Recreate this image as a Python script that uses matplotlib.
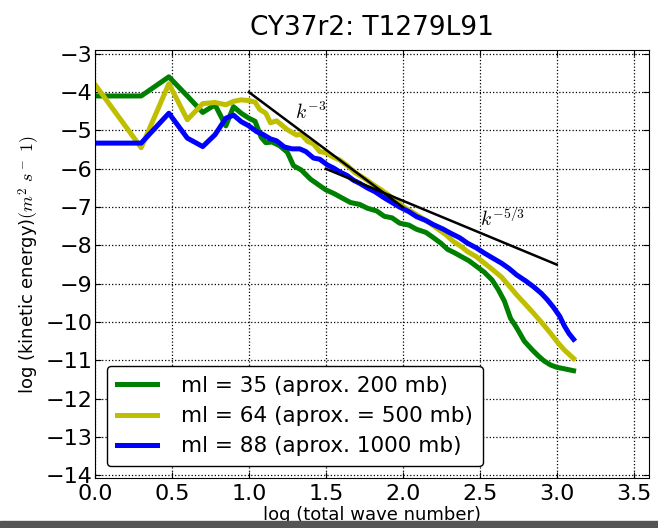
import matplotlib
matplotlib.use('Agg')
import matplotlib.pyplot as plt
from matplotlib.patches import Rectangle

## 1- data (log10 of wave number vs log10 of KE)
x_ml35 = [0.0, 0.30, 0.48, 0.60, 0.70, 0.78, 0.85, 0.90, 0.95, 1.00, 1.04, 1.08, 1.11,
          1.15, 1.20, 1.25, 1.29, 1.34, 1.40, 1.46, 1.50, 1.55, 1.60, 1.66, 1.72, 1.77,
          1.83, 1.88, 1.93, 1.98, 2.04, 2.09, 2.15, 2.20, 2.25, 2.29, 2.34, 2.38, 2.43,
          2.48, 2.53, 2.58, 2.62, 2.66, 2.70, 2.74, 2.79, 2.84, 2.88, 2.92, 2.96, 3.00,
          3.05, 3.11]
y_ml35 = [-4.10, -4.10, -3.60, -4.10, -4.53, -4.33, -4.88, -4.38, -4.55, -4.68, -4.76,
          -5.18, -5.32, -5.30, -5.40, -5.57, -5.92, -6.03, -6.27, -6.44, -6.55, -6.64,
          -6.75, -6.88, -6.93, -7.03, -7.10, -7.24, -7.28, -7.42, -7.47, -7.58, -7.66,
          -7.80, -7.95, -8.10, -8.20, -8.29, -8.40, -8.55, -8.70, -8.90, -9.15, -9.45,
          -9.90, -10.15, -10.50, -10.72, -10.88, -11.02, -11.12, -11.18, -11.22, -11.27]

x_ml64 = [0.0, 0.30, 0.48, 0.60, 0.70, 0.78, 0.85, 0.90, 0.95, 1.00, 1.04, 1.07, 1.11,
          1.14, 1.18, 1.22, 1.25, 1.31, 1.34, 1.38, 1.42, 1.46, 1.50, 1.55, 1.59, 1.64,
          1.69, 1.75, 1.81, 1.86, 1.92, 1.96, 2.00, 2.05, 2.11, 2.17, 2.22, 2.28, 2.33,
          2.38, 2.42, 2.48, 2.53, 2.58, 2.64, 2.69, 2.74, 2.80, 2.85, 2.90, 2.96, 3.00,
          3.05, 3.11]
y_ml64 = [-3.80, -5.45, -3.78, -4.72, -4.30, -4.27, -4.33, -4.24, -4.20, -4.22, -4.26,
          -4.45, -4.55, -4.80, -4.75, -4.88, -4.98, -5.12, -5.10, -5.28, -5.35, -5.55,
          -5.58, -5.70, -5.77, -5.92, -6.10, -6.25, -6.42, -6.55, -6.72, -6.85, -6.98,
          -7.10, -7.25, -7.40, -7.55, -7.72, -7.90, -8.03, -8.16, -8.30, -8.46, -8.62,
          -8.82, -9.05, -9.29, -9.55, -9.77, -10.00, -10.29, -10.50, -10.73, -10.95]

x_ml88 = [0.0, 0.30, 0.48, 0.60, 0.70, 0.78, 0.85, 0.90, 0.95, 1.00, 1.05, 1.09, 1.14,
          1.18, 1.23, 1.28, 1.33, 1.37, 1.42, 1.46, 1.51, 1.55, 1.59, 1.64, 1.68, 1.72,
          1.77, 1.82, 1.88, 1.93, 1.98, 2.04, 2.09, 2.15, 2.20, 2.26, 2.31, 2.37, 2.42,
          2.48, 2.53, 2.58, 2.64, 2.69, 2.74, 2.80, 2.85, 2.90, 2.94, 2.98, 3.02, 3.05,
          3.08, 3.11]
y_ml88 = [-5.33, -5.33, -4.55, -5.20, -5.42, -5.11, -4.68, -4.60, -4.77, -4.88, -5.03,
          -5.10, -5.22, -5.27, -5.43, -5.48, -5.48, -5.55, -5.72, -5.75, -5.90, -5.98,
          -6.08, -6.18, -6.30, -6.38, -6.50, -6.60, -6.76, -6.88, -7.00, -7.12, -7.25,
          -7.35, -7.46, -7.57, -7.68, -7.80, -7.94, -8.07, -8.20, -8.32, -8.46, -8.60,
          -8.77, -8.93, -9.08, -9.25, -9.42, -9.62, -9.85, -10.10, -10.30, -10.45]

# reference slopes
k3_x = [1.0, 2.0]
k3_y = [-4.0, -7.0]
k53_x = [1.5, 3.0]
k53_y = [-6.0, -8.5]

labels = ['ml = 35 (aprox. 200 mb)',
          'ml = 64 (aprox. = 500 mb)',
          'ml = 88 (aprox. 1000 mb)']

## 2- style (old matplotlib look)
plt.rcParams['mathtext.fontset'] = 'cm'
plt.rcParams['xtick.direction'] = 'in'
plt.rcParams['ytick.direction'] = 'in'
plt.rcParams['xtick.top'] = True
plt.rcParams['ytick.right'] = True
plt.rcParams['xtick.major.size'] = 4
plt.rcParams['ytick.major.size'] = 4

## 3- plot
fig = plt.figure(figsize=(6.58, 5.28), dpi=100)
ax = fig.add_axes([0.1444, 0.0947, 0.8419, 0.8106])

ax.plot(x_ml35, y_ml35, color='g', lw=3.6, label=labels[0])
ax.plot(x_ml64, y_ml64, color=(0.75, 0.75, 0), lw=3.6, label=labels[1])
ax.plot(x_ml88, y_ml88, color='b', lw=3.6, label=labels[2])
ax.plot(k3_x, k3_y, color='k', lw=1.8)
ax.plot(k53_x, k53_y, color='k', lw=1.8)

ax.text(1.3, -4.7, r'$k^{-3}$', fontsize=14)
ax.text(2.5, -7.5, r'$k^{-5/3}$', fontsize=14)

ax.set_xlim(0, 3.6)
ax.set_ylim(-14.07, -2.9)
ax.set_xticks([0.0, 0.5, 1.0, 1.5, 2.0, 2.5, 3.0, 3.5])
ax.set_yticks(range(-14, -2))
ax.tick_params(axis='both', labelsize=16)
ax.tick_params(axis='y', pad=2)
ax.tick_params(axis='x', pad=4)
ax.grid(True, linestyle=':', color='k', lw=0.9)

ax.set_title('CY37r2: T1279L91', fontsize=19, pad=11)
ax.set_xlabel('log (total wave number)', fontsize=13, labelpad=2)
ax.set_ylabel(r'log (kinetic energy)$(m^2\ s^-\ 1)$', fontsize=13, labelpad=2)

leg = ax.legend(loc='lower left', fontsize=15.5, handlelength=1.9, handletextpad=1.1,
                labelspacing=0.48, borderpad=0.45, borderaxespad=0.55, fancybox=True,
                framealpha=1)
leg.get_frame().set_edgecolor('k')
leg.get_frame().set_linewidth(1.0)

# dark strip along the bottom edge of the screenshot
fig.patches.append(Rectangle((0, 0), 1, 7 / 528, transform=fig.transFigure,
                             color='#555555', zorder=10))

fig.savefig('out.png', dpi=100)
